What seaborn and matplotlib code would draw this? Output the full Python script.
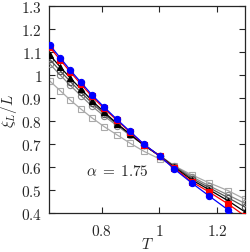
import numpy as np
import pandas as pd
import matplotlib
matplotlib.use('Agg')
import matplotlib.pyplot as plt
import seaborn as sns

# temperatures (geometric grid)
T = [0.620, 0.656, 0.691, 0.728, 0.766, 0.808, 0.853, 0.898, 0.947,
     1.001, 1.052, 1.114, 1.173, 1.239, 1.297]

# xi_L / L for each system size (smallest -> largest)
xi_s1 = [0.974, 0.932, 0.891, 0.852, 0.814, 0.776, 0.740, 0.704, 0.668,
         0.635, 0.605, 0.565, 0.531, 0.497, 0.460]
xi_s2 = [1.048, 1.000, 0.955, 0.910, 0.865, 0.822, 0.780, 0.738, 0.695,
         0.650, 0.605, 0.557, 0.518, 0.478, 0.442]
xi_s3 = [1.068, 1.018, 0.972, 0.925, 0.878, 0.832, 0.786, 0.742, 0.695,
         0.650, 0.602, 0.550, 0.510, 0.466, 0.426]
xi_s4 = [1.087, 1.035, 0.987, 0.939, 0.889, 0.839, 0.789, 0.743, 0.694,
         0.648, 0.599, 0.543, 0.501, 0.453, 0.405]
xi_s5 = [1.120, 1.066, 1.013, 0.960, 0.907, 0.855, 0.803, 0.752, 0.698,
         0.647, 0.595, 0.535, 0.491, 0.439, 0.387]
xi_s6 = [1.130, 1.075, 1.021, 0.968, 0.914, 0.861, 0.807, 0.755, 0.699,
         0.648, 0.591, 0.529, 0.474, 0.413, 0.360]

series = [
    (xi_s1, '#aaaaaa', 's', 'none'),
    (xi_s2, '#888888', 'o', 'none'),
    (xi_s3, '#555555', 'o', 'none'),
    (xi_s4, '#000000', '^', '#000000'),
    (xi_s5, '#ff0000', 's', '#ff0000'),
    (xi_s6, '#0000ff', 'o', '#0000ff'),
]

sns.set_style('ticks')
plt.rcParams['font.family'] = ['DejaVu Serif']
plt.rcParams['mathtext.fontset'] = 'cm'
plt.rcParams['font.size'] = 11

fig = plt.figure(figsize=(2.5, 2.53), dpi=100)
ax = fig.add_axes([0.196, 0.154, 0.784, 0.818])

for i, (vals, col, mk, fc) in enumerate(series):
    df = pd.DataFrame({'T': T, 'xi': vals})
    sns.lineplot(data=df, x='T', y='xi', ax=ax, color=col, lw=0.9,
                 marker=mk, markersize=4.5 if mk != 's' else 4,
                 markerfacecolor=fc, markeredgecolor=col, markeredgewidth=0.8,
                 zorder=2 + i)

ax.set_xlim(0.617, 1.297)
ax.set_ylim(0.4, 1.3)
ax.set_xticks([0.8, 1.0, 1.2])
ax.set_xticklabels(['$0.8$', '$1$', '$1.2$'])
yt = [0.4, 0.5, 0.6, 0.7, 0.8, 0.9, 1.0, 1.1, 1.2, 1.3]
ax.set_yticks(yt)
ax.set_yticklabels(['$%s$' % ('1' if v == 1.0 else '%.1f' % v) for v in yt])
ax.tick_params(direction='in', top=True, right=True, length=4, width=0.8,
               labelsize=11)
ax.tick_params(axis='x', pad=7)
ax.tick_params(axis='y', pad=5)
for s in ax.spines.values():
    s.set_linewidth(0.9)

ax.set_xlabel('$T$', fontsize=11, labelpad=-1)
ax.set_ylabel(r'$\xi_L/L$', fontsize=11, labelpad=1)
ax.text(0.853, 0.583, r'$\alpha\;=\;1.75$', fontsize=11, ha='center', va='center')

fig.savefig('out.png', dpi=100)
